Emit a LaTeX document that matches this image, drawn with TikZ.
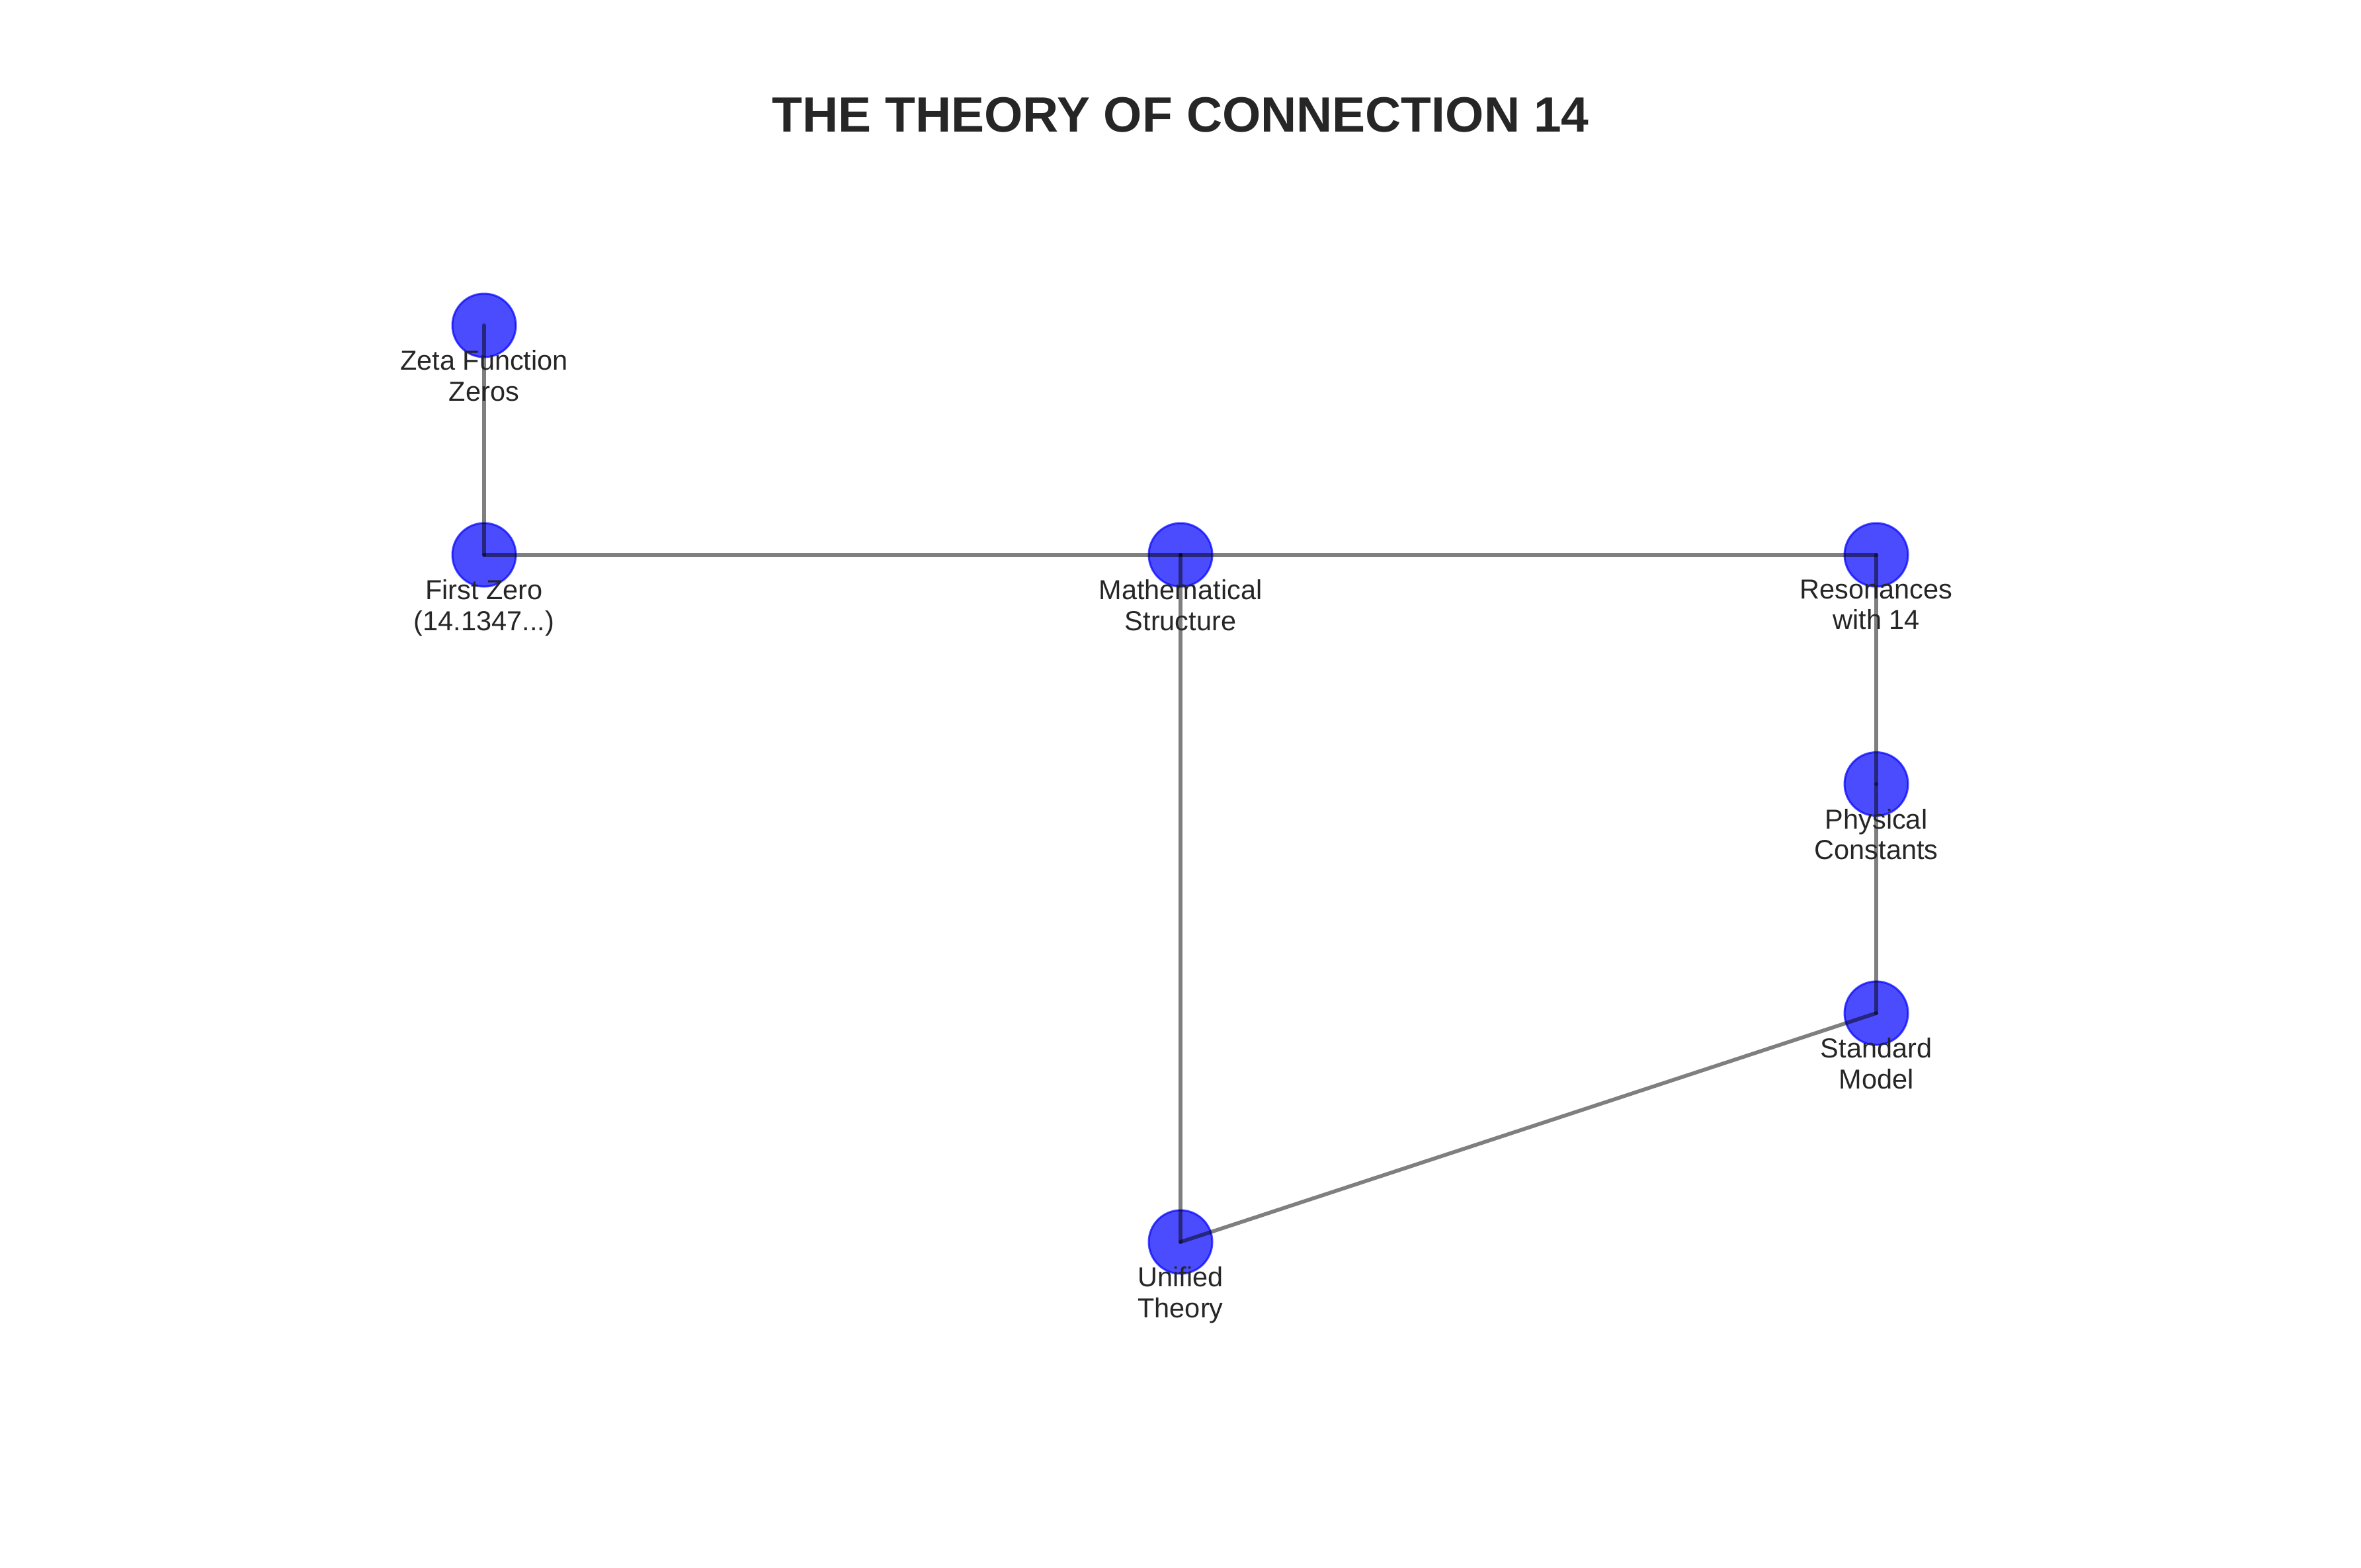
\documentclass[tikz,border=0pt]{standalone}
\usepackage{fontspec}
\setmainfont{Liberation Sans}
\definecolor{txt}{HTML}{262626}
\begin{document}
\begin{tikzpicture}[x=1pt,y=1pt,
  dot/.style={circle,minimum size=19.2pt,inner sep=0pt,fill=blue,fill opacity=0.7,draw=blue,draw opacity=0.7,line width=0.6pt},
  lbl/.style={anchor=north,inner sep=0pt,align=center,text=txt,font=\fontsize{8.3pt}{9.34pt}\selectfont},
  edge/.style={draw=black,draw opacity=0.5,line width=1.15pt,line cap=round}]
\useasboundingbox (0,0) rectangle (714,-474);
\node[font=\bfseries\fontsize{15pt}{17pt}\selectfont,text=txt] (title) at (357,-34.8) {THE THEORY OF CONNECTION 14};
\node[dot] (zeta) at (146.4,-98.4) {};
\node[dot] (first) at (146.4,-167.8) {};
\node[dot] (math) at (357,-167.8) {};
\node[dot] (res) at (567.4,-167.8) {};
\node[dot] (phys) at (567.4,-237.1) {};
\node[dot] (std) at (567.4,-306.4) {};
\node[dot] (uni) at (357,-375.6) {};
\draw[edge] (zeta.center) -- (first.center);
\draw[edge] (first.center) -- (math.center);
\draw[edge] (math.center) -- (res.center);
\draw[edge] (math.center) -- (uni.center);
\draw[edge] (res.center) -- (phys.center);
\draw[edge] (phys.center) -- (std.center);
\draw[edge] (std.center) -- (uni.center);
\node[lbl] (lzeta) at ([yshift=-7.3pt]zeta.center) {Zeta Function\\Zeros};
\node[lbl] (lfirst) at ([yshift=-7.3pt]first.center) {First Zero\\(14.1347...)};
\node[lbl] (lmath) at ([yshift=-7.3pt]math.center) {Mathematical\\Structure};
\node[lbl] (lres) at ([yshift=-7.3pt]res.center) {Resonances\\with 14};
\node[lbl] (lphys) at ([yshift=-7.3pt]phys.center) {Physical\\Constants};
\node[lbl] (lstd) at ([yshift=-7.3pt]std.center) {Standard\\Model};
\node[lbl] (luni) at ([yshift=-7.3pt]uni.center) {Unified\\Theory};
\end{tikzpicture}
\end{document}
